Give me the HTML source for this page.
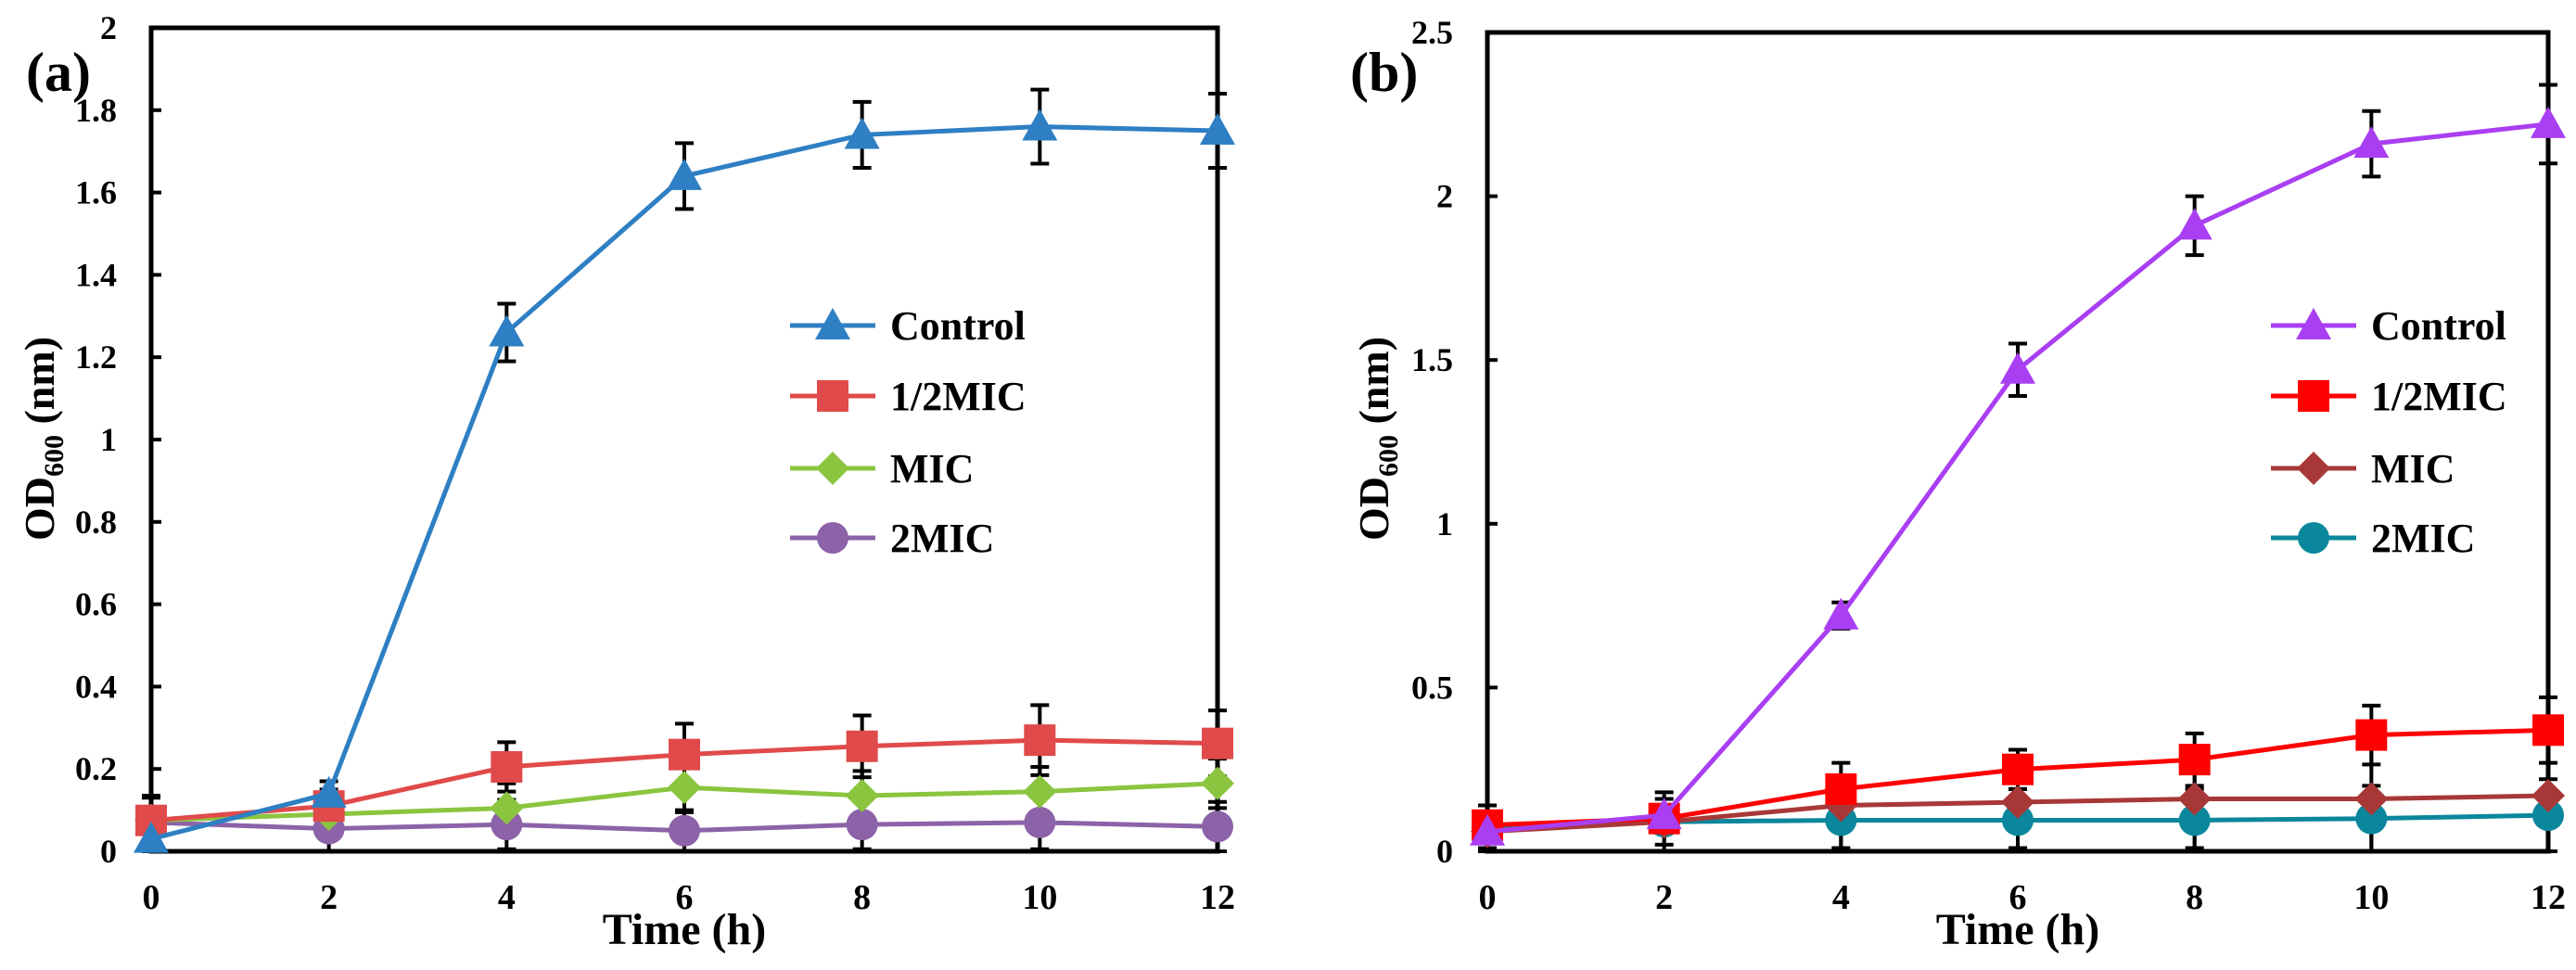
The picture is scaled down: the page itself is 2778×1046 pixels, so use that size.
<!DOCTYPE html>
<html><head><meta charset="utf-8">
<style>
html,body{margin:0;padding:0;background:#fff;}
svg{display:block;font-family:"Liberation Serif",serif;font-weight:bold;}
</style></head>
<body>
<svg id="chart" width="2778" height="1046" viewBox="0 0 2778 1046" xmlns="http://www.w3.org/2000/svg"></svg>
<script>
const timePoints = [0, 2, 4, 6, 8, 10, 12];
const xTicks = [0, 2, 4, 6, 8, 10, 12];
const seriesNames = ["Control", "1/2MIC", "MIC", "2MIC"];

const aTicks = [0, 0.2, 0.4, 0.6, 0.8, 1, 1.2, 1.4, 1.6, 1.8, 2];
const aTickLabels = ["0","0.2","0.4","0.6","0.8","1","1.2","1.4","1.6","1.8","2"];
const aControl = [0.03, 0.14, 1.26, 1.64, 1.74, 1.76, 1.75];
const aControlErr = [0.06, 0.03, 0.07, 0.08, 0.08, 0.09, 0.09];
const aHalf = [0.075, 0.11, 0.205, 0.235, 0.255, 0.27, 0.262];
const aHalfErr = [0.06, 0.04, 0.06, 0.075, 0.075, 0.085, 0.08];
const aMic = [0.075, 0.09, 0.105, 0.155, 0.135, 0.145, 0.165];
const aMicErr = [0.06, 0.05, 0.06, 0.06, 0.06, 0.06, 0.06];
const a2Mic = [0.07, 0.055, 0.065, 0.05, 0.065, 0.07, 0.06];
const a2MicErr = [0.06, 0.055, 0.06, 0.05, 0.06, 0.065, 0.06];

const bTicks = [0, 0.5, 1, 1.5, 2, 2.5];
const bTickLabels = ["0","0.5","1","1.5","2","2.5"];
const bControl = [0.06, 0.11, 0.72, 1.47, 1.91, 2.16, 2.22];
const bControlErr = [0.03, 0.02, 0.04, 0.08, 0.09, 0.1, 0.12];
const bHalf = [0.08, 0.1, 0.19, 0.25, 0.28, 0.355, 0.37];
const bHalfErr = [0.02, 0.02, 0.03, 0.06, 0.08, 0.09, 0.1];
const bMic = [0.06, 0.09, 0.14, 0.15, 0.16, 0.16, 0.17];
const bMicErr = [0.05, 0.07, 0.13, 0.14, 0.15, 0.16, 0.17];
const b2Mic = [0.07, 0.09, 0.095, 0.095, 0.095, 0.1, 0.11];
const b2MicErr = [0.07, 0.09, 0.095, 0.095, 0.095, 0.1, 0.11];

const NS = "http://www.w3.org/2000/svg";
const svg = document.getElementById("chart");
function mk(tag, attrs, parent, text){
  const e = document.createElementNS(NS, tag);
  for (const k in attrs) e.setAttribute(k, attrs[k]);
  if (text !== undefined) e.textContent = text;
  (parent || svg).appendChild(e);
  return e;
}
function marker(g, shape, cx, cy, color){
  let m;
  if (shape === "tri") m = mk("polygon", {points:`${cx},${cy-19} ${cx-19},${cy+15} ${cx+19},${cy+15}`, fill:color}, g);
  else if (shape === "sq") m = mk("rect", {x:cx-17, y:cy-17, width:34, height:34, fill:color}, g);
  else if (shape === "dia") m = mk("polygon", {points:`${cx},${cy-18} ${cx+18},${cy} ${cx},${cy+18} ${cx-18},${cy}`, fill:color}, g);
  else m = mk("circle", {cx:cx, cy:cy, r:17, fill:color}, g);
  return m;
}

function panel(cfg){
  const {L, R, T, B, ymax, ticks, tickLabels, series, id, labelText, labelX, legX, labelRight, ytitleX} = cfg;
  const X = t => L + (t / 12) * (R - L);
  const Y = v => B - (v / ymax) * (B - T);
  const g = mk("g", {}); 
  
  
  const frame = mk("rect", {x:L, y:T, width:R-L, height:B-T, fill:"none", stroke:"#000", "stroke-width":5}, g);
  
  
  ticks.forEach((v, i) => {
    const tk = mk("line", {x1:L, x2:L+11, y1:Y(v), y2:Y(v), stroke:"#000", "stroke-width":4}, g);
    
    
    const tl = mk("text", {x:labelRight, y:Y(v)+12, "text-anchor":"end", "font-size":36}, g, tickLabels[i]);
    
    
  });
  xTicks.forEach(t => {
    const tl = mk("text", {x:X(t), y:980, "text-anchor":"middle", "font-size":38}, g, String(t));
    
    
  });
  const xt = mk("text", {x:(L+R)/2, y:1018, "text-anchor":"middle", "font-size":48}, g, "Time (h)");
  
  
  const yt = mk("text", {x:0, y:0, "text-anchor":"middle", "font-size":46, transform:`translate(${ytitleX},473) rotate(-90)`}, g);
  
  
  mk("tspan", {}, yt, "OD");
  mk("tspan", {"font-size":30, dy:10}, yt, "600");
  mk("tspan", {dy:-10}, yt, " (nm)");
  const pl = mk("text", {x:labelX, y:98, "font-size":60}, g, labelText);
  
  

  // error bars
  series.slice().reverse().forEach(s => {
    s.vals.forEach((v, i) => {
      const x = X(timePoints[i]), y1 = Y(v + s.err[i]), y2 = Y(Math.max(0, v - s.err[i]));
      const eb = mk("path", {d:`M${x},${y1}V${y2}M${x-10},${y1}H${x+10}M${x-10},${y2}H${x+10}`, stroke:"#000", "stroke-width":4, fill:"none"}, g);
      
      
    });
  });
  series.slice().reverse().forEach(s => {
    const sg = mk("g", {}, g);
    
    
    const pts = s.vals.map((v, i) => X(timePoints[i]) + "," + Y(v)).join(" ");
    const ln = mk("polyline", {points:pts, fill:"none", stroke:s.color, "stroke-width":5}, sg);
    
    
    s.vals.forEach((v, i) => {
      const m = marker(sg, s.shape, X(timePoints[i]), Y(v), s.color);
      
      
    });
  });
  // legend
  const lg = mk("g", {}, g);
  
  
  const rows = [351, 427, 505, 580];
  series.forEach((s, i) => {
    const eg = mk("g", {}, lg);
    
    
    mk("line", {x1:legX, x2:legX+92, y1:rows[i], y2:rows[i], stroke:s.color, "stroke-width":5}, eg);
    marker(eg, s.shape, legX+46, rows[i], s.color);
    mk("text", {x:legX+108, y:rows[i]+15, "font-size":44}, eg, seriesNames[i]);
  });
}

panel({id:"panel-a", L:163, R:1313, T:30, B:918, ymax:2, ticks:aTicks, tickLabels:aTickLabels,
  labelText:"(a)", labelX:28, legX:852, labelRight:126, ytitleX:58,
  series:[
    {key:"control", vals:aControl, err:aControlErr, color:"#2e7fc3", shape:"tri"},
    {key:"half-mic", vals:aHalf, err:aHalfErr, color:"#e04a4a", shape:"sq"},
    {key:"mic", vals:aMic, err:aMicErr, color:"#8bc53f", shape:"dia"},
    {key:"2mic", vals:a2Mic, err:a2MicErr, color:"#8c62a8", shape:"circ"}
  ]});
panel({id:"panel-b", L:1604, R:2748, T:35, B:918, ymax:2.5, ticks:bTicks, tickLabels:bTickLabels,
  labelText:"(b)", labelX:1456, legX:2449, labelRight:1567, ytitleX:1497,
  series:[
    {key:"control", vals:bControl, err:bControlErr, color:"#a93ef2", shape:"tri"},
    {key:"half-mic", vals:bHalf, err:bHalfErr, color:"#ff0000", shape:"sq"},
    {key:"mic", vals:bMic, err:bMicErr, color:"#a83838", shape:"dia"},
    {key:"2mic", vals:b2Mic, err:b2MicErr, color:"#0a879c", shape:"circ"}
  ]});
</script>
</body></html>
